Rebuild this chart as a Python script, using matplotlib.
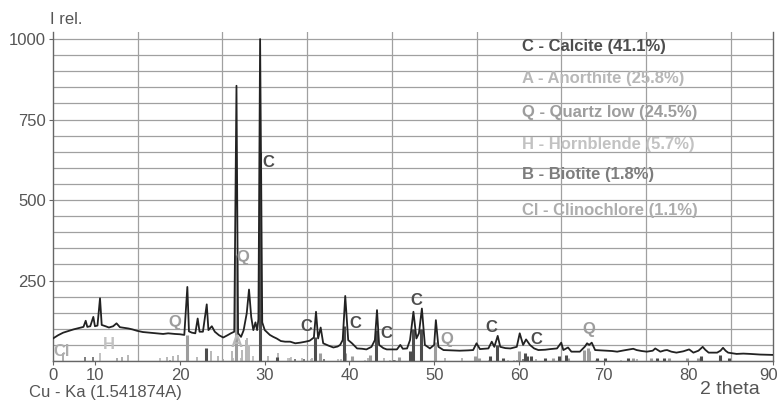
import matplotlib
matplotlib.use("Agg")
import matplotlib.pyplot as plt
from matplotlib.transforms import ScaledTranslation

plt.rcParams["font.family"] = ["Liberation Sans", "DejaVu Sans"]

tth_obs = [5.0, 5.6, 6.2, 6.8, 7.4, 8.0, 8.6, 8.86, 9.05, 9.4, 9.76, 9.95, 10.25, 10.55,
           10.75, 11.2, 11.6, 12.1, 12.5, 12.9, 13.4, 13.9, 14.4, 14.9, 15.6, 16.4, 17.2,
           18.0, 18.6, 19.4, 20.0, 20.5, 20.86, 21.05, 21.4, 21.8, 22.08, 22.3, 22.7,
           23.15, 23.35, 23.75, 24.1, 24.6, 25.1, 25.6, 26.0, 26.4, 26.66, 26.85, 27.2,
           27.5, 27.87, 28.14, 28.4, 28.65, 28.9, 29.1, 29.25, 29.45, 29.7, 30.0, 30.6,
           31.0, 31.4, 31.9, 32.4, 33.0, 33.6, 34.2, 34.8, 35.3, 35.8, 36.05, 36.3, 36.6,
           36.9, 37.5, 38.1, 38.6, 38.9, 39.2, 39.5, 39.85, 40.3, 40.9, 41.5, 42.0, 42.6,
           43.0, 43.25, 43.5, 44.0, 44.4, 45.0, 45.6, 46.0, 46.3, 46.8, 47.15, 47.55,
           47.9, 48.2, 48.55, 48.9, 49.5, 50.0, 50.2, 50.5, 51.1, 52.0, 53.0, 54.0, 54.6,
           55.0, 55.4, 56.0, 56.4, 56.8, 57.1, 57.5, 57.8, 58.4, 59.0, 59.75, 60.1, 60.5,
           60.85, 61.3, 61.8, 62.3, 63.1, 63.7, 64.5, 65.0, 65.25, 65.8, 66.2, 67.2, 67.8,
           68.05, 68.3, 68.6, 69.0, 69.7, 70.4, 71.0, 71.6, 72.4, 73.1, 73.5, 73.9, 74.5,
           75.1, 75.8, 76.1, 76.7, 77.2, 77.5, 78.0, 78.6, 79.4, 80.1, 80.6, 81.2, 81.7,
           82.0, 82.4, 83.4, 83.8, 84.1, 84.4, 84.7, 85.7, 86.5, 87.3, 88.5, 89.9]
int_obs = [70, 80, 88, 93, 98, 102, 106, 125, 106, 108, 137, 108, 110, 195,
           112, 108, 104, 108, 117, 105, 103, 101, 98, 94, 90, 88, 86,
           84, 86, 84, 83, 81, 230, 92, 88, 86, 132, 91, 91,
           176, 96, 108, 91, 80, 73, 80, 86, 91, 855, 86, 75,
           95, 148, 222, 137, 96, 120, 96, 130, 1000, 120, 96, 81,
           75, 70, 62, 60, 60, 55, 57, 60, 63, 73, 153, 70, 104,
           55, 48, 42, 45, 50, 65, 202, 65, 55, 39, 38, 36, 44,
           65, 158, 50, 40, 36, 36, 36, 50, 38, 39, 65, 153,
           70, 86, 163, 50, 39, 50, 127, 44, 34, 33, 32, 33, 34,
           55, 37, 38, 39, 60, 44, 78, 44, 40, 39, 44, 86, 50,
           67, 50, 39, 34, 35, 37, 39, 57, 34, 42, 29, 29, 45,
           55, 50, 57, 34, 33, 32, 31, 29, 33, 36, 38, 34, 31,
           29, 32, 39, 29, 33, 34, 29, 26, 30, 36, 26, 32, 44,
           35, 26, 26, 32, 41, 32, 26, 22, 23, 22, 20, 19]

# reference stick patterns per phase (position, height)
calcite_pos = [23.06, 29.45, 31.4, 35.97, 39.4, 43.15, 47.1, 47.5, 48.5, 56.6, 57.4,
               58.1, 60.7, 61.0, 61.4, 63.1, 64.7, 65.6, 69.2, 70.2, 72.9, 76.3, 77.1,
               81.5, 83.8, 84.8]
calcite_int = [40, 650, 12, 75, 110, 95, 30, 100, 100, 15, 50,
               10, 25, 15, 15, 8, 15, 20, 10, 8, 10, 10, 10,
               15, 20, 10]
quartz_pos = [20.86, 26.66, 36.54, 39.47, 40.3, 42.45, 45.8, 50.14, 54.87, 55.3, 59.96,
              64.0, 65.8, 67.74, 68.14, 68.3, 73.5, 75.6, 77.7, 79.9, 81.2, 81.5, 83.8]
quartz_int = [80, 330, 25, 25, 15, 20, 12, 60, 15, 8, 30,
              8, 8, 35, 40, 30, 8, 10, 8, 10, 8, 10, 8]
anorth_pos = [13.9, 18.4, 19.2, 19.8, 22.0, 23.6, 24.5, 26.1, 27.3, 27.75, 27.95, 28.1,
              30.4, 31.6, 33.0, 35.6, 36.0, 42.2, 44.1, 51.3, 53.3, 62.0, 74.0]
anorth_int = [19, 12, 15, 20, 12, 30, 15, 30, 35, 65, 70, 50,
              15, 25, 10, 10, 15, 10, 10, 10, 8, 6, 5]
hornbl_pos = [10.55, 17.6, 26.3, 27.2, 28.6, 32.8, 33.1, 34.4, 35.5, 38.6, 39.0, 41.8,
              44.8, 48.6, 56.5, 58.7, 59.4, 61.1, 63.1, 69.1, 72.0]
hornbl_int = [26, 10, 8, 10, 15, 10, 12, 8, 5, 5, 6, 4,
              4, 4, 4, 4, 4, 5, 4, 4, 4]
biotite_pos = [8.8, 9.76, 26.6, 33.6, 34.6, 37.0, 45.3, 60.5]
biotite_int = [12, 13, 6, 5, 5, 5, 4, 5]
clino_pos = [6.2, 12.5, 13.1, 18.8, 25.1, 34.4, 45.4, 59.8]
clino_int = [25, 8, 12, 4, 6, 4, 4, 4]

# peak letters (text, 2theta, height)
labels_txt = ["C", "Q", "Q", "C", "C", "C", "C", "Q", "C", "C", "Q", "A", "H", "Cl"]
labels_x = [30.4, 27.43, 19.4, 34.85, 40.65, 44.4, 47.94, 51.48, 56.8, 62.1, 68.3, 26.72, 11.6, 6.06]
labels_y = [617, 322, 121, 108, 117, 86, 189, 67, 104, 67, 98, 56, 50, 31]

legend_txt = ["C - Calcite (41.1%)", "A - Anorthite (25.8%)", "Q - Quartz low (24.5%)",
              "H - Hornblende (5.7%)", "B - Biotite (1.8%)", "Cl - Clinochlore (1.1%)"]

col = {"C": "#4d4d4d", "A": "#b8b8b8", "Q": "#9d9d9d", "H": "#c2c2c2",
       "B": "#7d7d7d", "Cl": "#adadad"}

fig = plt.figure(figsize=(7.79, 4.05), dpi=100)
ax = fig.add_axes([53 / 779, 44 / 405, 720 / 779, 329 / 405])

ax.set_xlim(5, 90)
ax.set_ylim(0, 1022)
ax.set_xticks(range(5, 91, 5), minor=True)
ax.set_yticks(range(0, 1001, 50), minor=True)
ax.set_xticks([5, 10, 20, 30, 40, 50, 60, 70, 80, 90])
ax.set_xticklabels(["0", "10", "20", "30", "40", "50", "60", "70", "80", "90"])
ax.set_yticks([250, 500, 750, 1000])
ax.grid(which="minor", color="#a0a0a0", lw=0.9)
ax.grid(which="major", axis="y", color="#a0a0a0", lw=0.9)
ax.tick_params(which="minor", length=0)
ax.tick_params(which="major", length=3, color="#666", labelsize=12, labelcolor="#555", pad=2)
for s in ["left", "bottom", "right"]:
    ax.spines[s].set_color("#666")
    ax.spines[s].set_linewidth(1.0)
ax.spines["top"].set_visible(False)

# keep the last tick label inside the canvas
last = ax.get_xticklabels()[-1]
last.set_ha("right")
last.set_transform(last.get_transform() + ScaledTranslation(5 / 100, 0, fig.dpi_scale_trans))

sticks = [("Cl", clino_pos, clino_int), ("H", hornbl_pos, hornbl_int),
          ("A", anorth_pos, anorth_int), ("B", biotite_pos, biotite_int),
          ("Q", quartz_pos, quartz_int), ("C", calcite_pos, calcite_int)]
for key, pos, hgt in sticks:
    ax.vlines(pos, 0, hgt, colors=col[key], lw=2.2 if key in ("C", "Q") else 1.4, zorder=2)

ax.plot(tth_obs, int_obs, color="#222", lw=1.3, zorder=3)

for t, x, y in zip(labels_txt, labels_x, labels_y):
    ax.text(x, y, t, color=col[t], fontsize=12, fontweight="bold",
            ha="center", va="center", zorder=4)

leg_keys = ["C", "A", "Q", "H", "B", "Cl"]
leg_y = [46, 79, 112, 144, 175, 210]
for k, txt, y in zip(leg_keys, legend_txt, leg_y):
    fig.text(522 / 779, 1 - y / 405, txt, color=col[k], fontsize=12,
             fontweight="bold", ha="left", va="center")

fig.text(50 / 779, 1 - 20 / 405, "I rel.", fontsize=12, color="#555", va="center")
fig.text(29 / 779, 1 - 393 / 405, "Cu - Ka (1.541874A)", fontsize=12, color="#555", va="center")
fig.text(700 / 779, 1 - 390 / 405, "2 theta", fontsize=14, color="#555", va="center")

fig.savefig("out.png", dpi=100)
